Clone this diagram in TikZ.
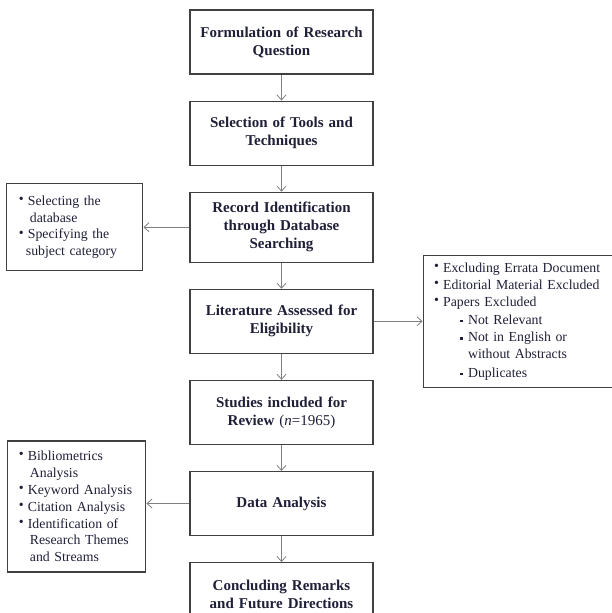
\documentclass[tikz,border=0pt]{standalone}
\usepackage{fontspec}
\setmainfont{Liberation Serif}
\usetikzlibrary{arrows.meta, positioning}
\definecolor{inkblue}{rgb}{0.12,0.12,0.22}

% bullets for the side notes
\newcommand{\bul}{\makebox[9pt][l]{\raisebox{0.3ex}{\fontsize{14}{14}\selectfont\textbullet}}}
\newcommand{\sbul}{\makebox[8pt][l]{\raisebox{0.3ex}{\rule{2.4pt}{2.4pt}}}}
\newcommand{\ind}{\hspace*{11pt}}
\newcommand{\nohyph}{\hyphenpenalty=10000\relax}

\begin{document}
\begin{tikzpicture}[
  stage/.style={draw=black!75, line width=1.1pt, text width=170pt, minimum width=183pt,
    minimum height=64pt, inner sep=0pt, align=center,
    font=\fontsize{15}{18}\selectfont\bfseries, text=inkblue},
  note/.style={draw=black!75, line width=1.1pt, inner xsep=12pt, inner ysep=0pt, align=left,
    font=\fontsize{13.8}{16.8}\selectfont\nohyph, text=inkblue},
  arr/.style={-{Straight Barb[length=5pt,width=9pt]}, gray, line width=0.8pt},
  node distance=26pt
]
\useasboundingbox (0,0) rectangle (611pt,-613pt);

% main chain
\node[stage] (b1) at (281.5pt,-42pt) {Formulation of Research\\ Question};
\node[stage, below=of b1] (b2) {Selection of Tools and\\ Techniques};
\node[stage, below=of b2, minimum height=70pt] (b3) {Record Identification\\ through Database\\ Searching};
\node[stage, below=of b3] (b4) {Literature Assessed for\\ Eligibility};
\node[stage, below=of b4] (b5) {Studies included for\\ Review {\mdseries(}\textit{\mdseries n}{\mdseries=1965)}};
\node[stage, below=of b5] (b6) {Data Analysis};
\node[stage, below=of b6] (b7) {Concluding Remarks\\ and Future Directions};

\foreach \a/\b in {b1/b2, b2/b3, b3/b4, b4/b5, b5/b6, b6/b7}
  \draw[arr] (\a) -- (\b);

% side notes
\node[note, text width=112pt, minimum height=87pt, left=46pt of b3] (n1)
  {\bul Selecting the\\ \ind database\\ \bul Specifying the\\ \hspace*{7pt}subject category};
\node[note, inner xsep=11pt, text width=190pt, minimum height=132pt,
  font=\fontsize{13.8}{17.3}\selectfont\nohyph, right=49pt of b4] (n2)
  {\bul Excluding Errata Document\\ \bul Editorial Material Excluded\\ \bul Papers Excluded\\
   \ind\hspace*{15pt}\sbul Not Relevant\\ \ind\hspace*{15pt}\sbul Not in English or\\
   \ind\hspace*{23pt}without Abstracts\\[1pt] \ind\hspace*{15pt}\sbul Duplicates};
\node[note, inner xsep=11pt, text width=116pt, minimum height=131pt, left=43pt of b6,
  yshift=-3pt] (n3)
  {\bul Bibliometrics\\ \ind Analysis\\ \bul Keyword Analysis\\ \bul Citation Analysis\\
   \bul Identification of\\ \ind Research Themes\\ \ind and Streams};

\draw[arr] (b3) -- (n1);
\draw[arr] (b4) -- (n2);
\draw[arr] (b6.west) -- (b6.west -| n3.east);
\end{tikzpicture}
\end{document}
